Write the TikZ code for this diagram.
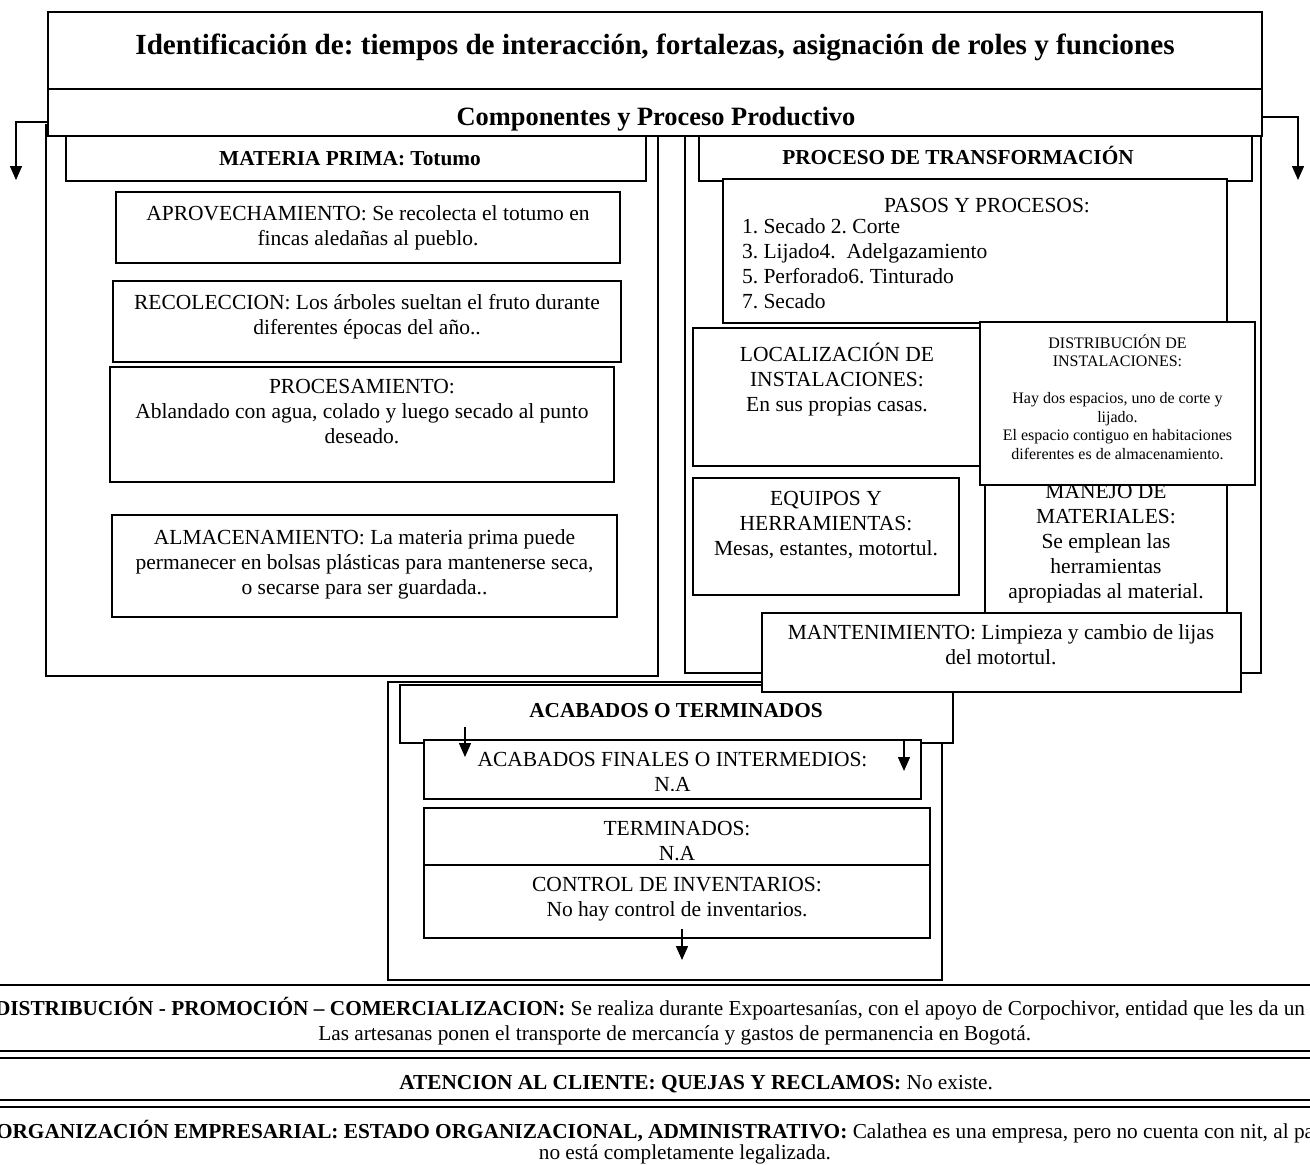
\documentclass[tikz,border=0pt]{standalone}
\usepackage{fontspec}
\setmainfont{Liberation Serif}
\usetikzlibrary{arrows.meta}
\frenchspacing
\newcommand\fbody{\fontsize{21.5}{25}\selectfont}
\newcommand\fsmall{\fontsize{16}{18.5}\selectfont}
\newcommand\fband{\fontsize{21.3}{25}\selectfont}
\newcommand\fhead{\fontsize{21.3}{25}\selectfont\bfseries}
\newcommand\ftitle{\fontsize{29.2}{34}\selectfont\bfseries}
\newcommand\fcomp{\fontsize{26.4}{30}\selectfont\bfseries}
\newcommand\bx[6][]{%
 \pgfmathsetmacro\mybw{#5-#3}%
 \pgfmathsetmacro\mybh{#6-#4}%
 \pgfmathsetmacro\mycx{(#3+#5)/2}%
 \pgfmathsetmacro\mycy{(#4+#6)/2}%
 \node[boxst,minimum width=\mybw pt,minimum height=\mybh pt,#1] (#2) at (\mycx,\mycy) {};}
\tikzset{
 boxst/.style={draw=black, line width=1.8pt, fill=white, inner sep=0pt, outer sep=0pt},
 bandst/.style={boxst, line width=2pt},
 tb/.style={anchor=north, inner sep=0pt, outer sep=0pt, align=center, font=\fbody, execute at begin node=\strut},
 ts/.style={tb, font=\fsmall},
 tband/.style={tb, font=\fband},
 hd/.style={anchor=base, inner sep=0pt, outer sep=0pt, font=\fhead},
 arr/.style={line width=1.5pt, -{Triangle[width=12pt,length=14pt]}}
}
\begin{document}
\begin{tikzpicture}[x=1pt,y=-1pt]
\clip (0,0) rectangle (1310,1165);
\fill[white] (0,0) rectangle (1310,1165);
% containers
\bx{lcont}{46}{125}{658}{676}
\bx{rcont}{685}{125}{1261}{673}
\bx{mphdr}{66}{125}{646}{181}
\bx{pthdr}{699}{125}{1252}{181}
\node[hd] (tmp) at (350,165) {MATERIA PRIMA: Totumo};
\node[hd] (tpt) at (958,164) {PROCESO DE TRANSFORMACIÓN};
% title boxes
\bx{title}{48}{12}{1262}{89}
\bx{comp}{48}{89}{1262}{136}
\node[hd, font=\ftitle] (ttitle) at (655,54) {Identificación de: tiempos de interacción, fortalezas, asignación de roles y funciones};
\node[hd, font=\fcomp] (tcomp) at (656,125) {Componentes y Proceso Productivo};
\coordinate (la) at (16,180);
\coordinate (ra) at (1298,180);
\draw[arr] ([yshift=-9.5pt]comp.west) -| (la);
\draw[arr] ([yshift=-4.5pt]comp.east) -| (ra);
% left column
\bx{aprov}{116}{192}{620}{263}
\node[tb] (taprov) at (368,205.2) {APROVECHAMIENTO: Se recolecta el totumo en\\fincas aledañas al pueblo.};
\bx{recol}{113}{281}{621}{362}
\node[tb] (trecol) at (367,294.7) {RECOLECCION: Los árboles sueltan el fruto durante\\diferentes épocas del año..};
\bx{proc}{110}{367}{614}{482}
\node[tb] (tproc) at (362,379.7) {PROCESAMIENTO:\\Ablandado con agua, colado y luego secado al punto\\deseado.};
\bx{almac}{112}{515}{617}{617}
\node[tb] (talmac) at (364.5,529.7) {ALMACENAMIENTO: La materia prima puede\\permanecer en bolsas plásticas para mantenerse seca,\\o secarse para ser guardada..};
% right column
\bx{pasos}{723}{179}{1227}{323}
\node[tb] (tpasos) at (987,194.7) {PASOS Y PROCESOS:};
\node[tb, anchor=north west, align=left] (tlist) at (742,218.7) {1. Secado 2. Corte\\3. Lijado4.\hspace{0.5em}Adelgazamiento\\5. Perforado6. Tinturado\\7. Secado};
\bx{local}{693}{328}{981}{466}
\node[tb] (tlocal) at (837,342.7) {LOCALIZACIÓN DE\\INSTALACIONES:\\En sus propias casas.};
\bx{manejo}{985}{470}{1227}{640}
\node[tb] (tmanejo) at (1106,484.7) {MANEJO DE\\MATERIALES:\\Se emplean las\\herramientas\\apropiadas al material.};
\bx{distr}{980}{322}{1255}{485}
\node[ts] (tdistr) at (1117.5,334.3) {DISTRIBUCIÓN DE\\INSTALACIONES:\\[18.5pt]Hay dos espacios, uno de corte y\\lijado.\\El espacio contiguo en habitaciones\\diferentes es de almacenamiento.};
\bx{equip}{693}{478}{959}{595}
\node[tb] (tequip) at (826,491.7) {EQUIPOS Y\\HERRAMIENTAS:\\Mesas, estantes, motortul.};
% acabados
\bx{acont}{388}{682}{942}{980}
\bx{ahdr}{400}{685}{953}{743}
\node[hd] (tacab) at (676,717) {ACABADOS O TERMINADOS};
\bx{fin}{424}{740}{921}{799}
\begin{scope}
\clip (424,740) rectangle (921,790);
\node[tb] (tfin) at (672.5,752.7) {ACABADOS FINALES O INTERMEDIOS:\\N.A};
\end{scope}
\bx{term}{424}{808}{930}{880}
\node[tb] (tterm) at (677,821.7) {TERMINADOS:\\N.A};
\bx{ctrl}{424}{865}{930}{938}
\node[tb] (tctrl) at (677,877.7) {CONTROL DE INVENTARIOS:\\No hay control de inventarios.};
\coordinate (a1s) at (465,727);
\coordinate (a1e) at (465,757);
\coordinate (a2s) at (904,741);
\coordinate (a2e) at (904,771);
\coordinate (a3s) at (682,929);
\coordinate (a3e) at (682,960);
\draw[arr] (a1s) -- (a1e);
\draw[arr] (a2s) -- (a2e);
\draw[arr] (a3s) -- (a3e);
% mantenimiento on top
\bx{mant}{762}{613}{1241}{692}
\node[tb] (tmant) at (1001,624.7) {MANTENIMIENTO: Limpieza y cambio de lijas\\del motortul.};
% bottom bands
\bx[bandst]{band1}{-10}{985}{1320}{1051}
\bx[bandst]{band2}{-10}{1058}{1320}{1100}
\bx[bandst]{band3}{-10}{1107}{1320}{1190}
\node[tband, anchor=north west] (tb1a) at (-5,997.5) {\textbf{DISTRIBUCIÓN - PROMOCIÓN – COMERCIALIZACION:} Se realiza durante Expoartesanías, con el apoyo de Corpochivor, entidad que les da un};
\node[tband, anchor=north east] (tb1b) at (1031,1022.5) {Las artesanas ponen el transporte de mercancía y gastos de permanencia en Bogotá.};
\node[tband, anchor=north east] (tb2) at (993,1071.5) {\textbf{ATENCION AL CLIENTE: QUEJAS Y RECLAMOS:} No existe.};
\node[tband, anchor=north west] (tb3a) at (-4,1120.5) {\textbf{ORGANIZACIÓN EMPRESARIAL: ESTADO ORGANIZACIONAL, ADMINISTRATIVO:} Calathea es una empresa, pero no cuenta con nit, al pa};
\node[tband, anchor=north east] (tb3b) at (831,1141.5) {no está completamente legalizada.};
\end{tikzpicture}
\end{document}
